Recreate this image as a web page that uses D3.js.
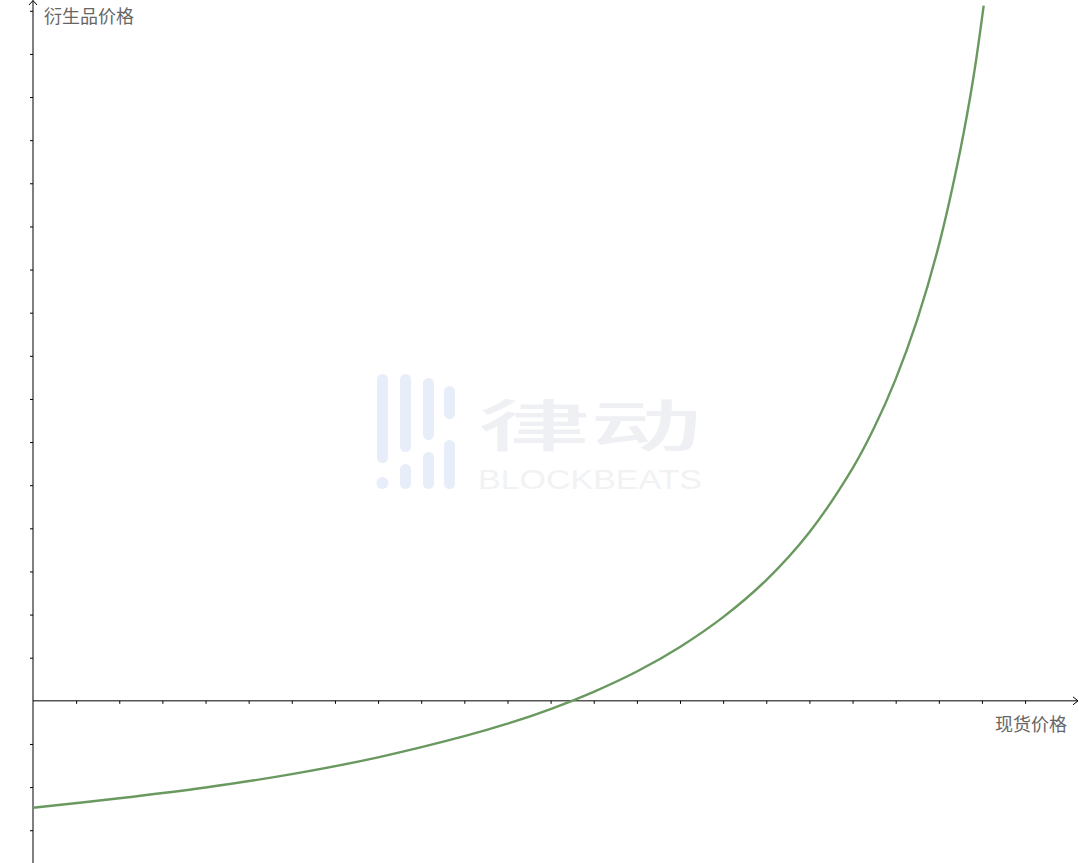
<!DOCTYPE html>
<html>
<head>
<meta charset="utf-8">
<script src="https://cdn.jsdelivr.net/npm/d3@7"></script>
<style>
  html, body { margin: 0; padding: 0; background: #fff; }
  svg { display: block; }
</style>
</head>
<body>
<svg id="chart" width="1079" height="863"></svg>
<script>
// ---- data (one tick = 1 unit) ----
const spotPrice = [0, 2, 4, 6, 8, 10, 11, 12, 13, 14, 15, 16, 17, 18, 19, 19.5, 20, 20.5, 21, 21.5, 21.8, 22.04];
const derivativePrice = [-2.48, -2.26, -2.01, -1.70, -1.31, -0.82, -0.53, -0.19, 0.21, 0.68, 1.25, 1.94, 2.80, 3.91, 5.39, 6.33, 7.46, 8.84, 10.56, 12.78, 14.44, 16.12];
const xTicks = [1,2,3,4,5,6,7,8,9,10,11,12,13,14,15,16,17,18,19,20,21,22,23];
const yTicks = [-3,-2,-1,1,2,3,4,5,6,7,8,9,10,11,12,13,14,15,16];
const xLabel = "现货价格";
const yLabel = "衍生品价格";

const W = 1079, H = 863;
const svg = d3.select("#chart");

const x = d3.scaleLinear().domain([0, 24.25]).range([33, 1079]);
const y = d3.scaleLinear().domain([-3.76, 16.25]).range([863, 0]);

// ---- watermark ----
const wm = svg.append("g").attr("class", "watermark");
const barColor = "#e8edfa";
const bars = [
  [377, 374, 463], [400, 374, 452], [400, 464, 489],
  [423, 378, 440], [423, 452, 489], [444, 386, 419], [444, 440, 489]
];
bars.forEach(b => {
  wm.append("rect").attr("x", b[0]).attr("y", b[1]).attr("width", 11)
    .attr("height", b[2] - b[1]).attr("rx", 5.5).attr("fill", barColor);
});
wm.append("circle").attr("cx", 382.5).attr("cy", 483).attr("r", 6).attr("fill", barColor);
wm.append("text").attr("x", 478).attr("y", 446)
  .attr("textLength", 224).attr("lengthAdjust", "spacingAndGlyphs")
  .attr("font-family", "Noto Sans CJK SC").attr("font-weight", 500)
  .attr("font-size", 56).attr("fill", "#eff0f3").text("律动");
wm.append("text").attr("x", 478).attr("y", 489)
  .attr("textLength", 224).attr("lengthAdjust", "spacingAndGlyphs")
  .attr("font-family", "Liberation Sans").attr("font-size", 28)
  .attr("fill", "#f1f2f4").text("BLOCKBEATS");

// ---- axes ----
const xAxis = d3.axisBottom(x).tickValues(xTicks).tickSize(3).tickFormat("");
const yAxis = d3.axisLeft(y).tickValues(yTicks).tickSize(3).tickFormat("");

const gx = svg.append("g").attr("transform", `translate(0,${y(0)})`).call(xAxis);
gx.select(".domain").remove();
gx.selectAll("line").attr("stroke", "#000");

const gy = svg.append("g").attr("transform", `translate(${x(0)},0)`).call(yAxis);
gy.select(".domain").remove();
gy.selectAll("line").attr("stroke", "#000");

// axis lines with arrows
svg.append("line").attr("x1", x(0)).attr("x2", 1078)
  .attr("y1", y(0)).attr("y2", y(0)).attr("stroke", "#000").attr("stroke-width", 1);
svg.append("path").attr("d", `M1073,${y(0)-4}L1078,${y(0)}L1073,${y(0)+4}`)
  .attr("fill", "none").attr("stroke", "#000").attr("stroke-width", 1);

svg.append("line").attr("x1", x(0)).attr("x2", x(0))
  .attr("y1", H).attr("y2", 0.5).attr("stroke", "#000").attr("stroke-width", 1);
svg.append("path").attr("d", `M${x(0)-4},5L${x(0)},0.5L${x(0)+4},5`)
  .attr("fill", "none").attr("stroke", "#000").attr("stroke-width", 1);

// ---- labels ----
svg.append("text").attr("x", 44).attr("y", 23)
  .attr("font-family", "Noto Sans CJK SC").attr("font-size", 18)
  .attr("fill", "#666").text(yLabel);
svg.append("text").attr("x", 1067).attr("y", 731).attr("text-anchor", "end")
  .attr("font-family", "Noto Sans CJK SC").attr("font-size", 18)
  .attr("fill", "#666").text(xLabel);

// ---- curve ----
const pts = spotPrice.map((v, i) => [v, derivativePrice[i]]);
const line = d3.line().x(d => x(d[0])).y(d => y(d[1])).curve(d3.curveCatmullRom);
svg.append("path").datum(pts).attr("d", line)
  .attr("fill", "none").attr("stroke", "#6a9960").attr("stroke-width", 2.4);
</script>
</body>
</html>
